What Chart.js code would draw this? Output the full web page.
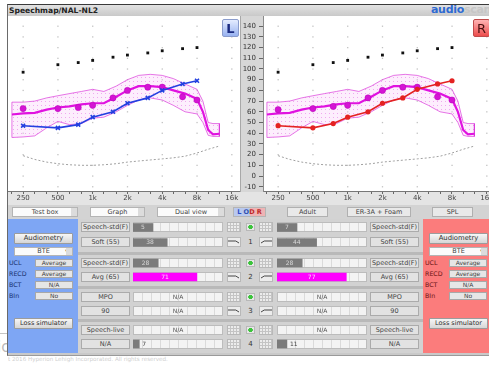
<!DOCTYPE html>
<html lang="en">
<head>
<meta charset="UTF-8" />
<title>Speechmap/NAL-NL2</title>
<script src="https://cdn.jsdelivr.net/npm/chart.js"></script>
<style>
  html, body { margin: 0; padding: 0; overflow: hidden; }
  body {
    width: 489px; height: 366px; position: relative; background: #fff;
    font-family: 'DejaVu Sans', sans-serif; color: #333;
  }
  .a { position: absolute; box-sizing: border-box; white-space: nowrap; overflow: hidden; text-align: center; font-size: 6.5px; }
  .btn { background: linear-gradient(#f6f6f6, #d6d6d6); border: 1px solid #9c9c9c; border-radius: 1px; color: #333; }
  .flat { background: #e2e2e2; border: 1px solid #ababab; color: #444; }
  .val { background: #e6e6e6; border: 1px solid #a8a8a8; color: #444; }
  .lab { text-align: left; font-size: 6.3px; }
  .combo { background: #fbfbfb; border: 1px solid #b4b4b4; color: #444; }
  .combo:after { content: ''; position: absolute; right: 0; top: 0; bottom: 0; width: 6px; background: #dcdcdc; }
  .gray { background: #e9e9e9; border: 1px solid #b0b0b0; color: #444; }
  .track {
    background: #f3f3f3; border: 1px solid #bcbcbc;
    background-image: repeating-linear-gradient(90deg, transparent 0 8px, #dadada 8px 9px);
  }
  .icon { background: #ececec; border: 1px solid #b8b8b8; }
  .wrap { position: absolute; }
</style>
</head>
<body>
  <div class="a" style="left:-3px;top:338px;width:14px;height:18px;font-size:15px;color:#b9b9b9;text-align:left;overflow:visible">ic</div>
  <div class="a" style="left:0;top:333px;width:8px;height:1px;background:#c4c4c4"></div>
  <div class="a" style="left:8px;top:356px;width:200px;height:8px;font-size:5.6px;color:#cfcfcf;text-align:left">t 2016 Hyperion Lehigh Incorporated. All rights reserved.</div>

  <!-- window frame -->
  <div class="a" style="left:7px;top:4px;width:490px;height:352px;background:#c9c9c9;border-top:1px solid #3a3a3a;border-left:1px solid #6a6a6a;border-bottom:1px solid #9a9a9a"></div>
  <div class="a" style="left:8px;top:5px;width:485px;height:11px;background:linear-gradient(#e2e2e2,#c9c9c9)"></div>
  <div class="a" style="left:9px;top:5px;width:120px;height:11px;line-height:11px;font-size:7.6px;font-weight:bold;color:#222;text-align:left">Speechmap/NAL-NL2</div>
  <div class="a" style="left:431px;top:3px;width:60px;height:13px;line-height:13px;font-size:11px;font-weight:bold;text-align:left;letter-spacing:-0.3px"><span style="color:#2f6ad2">audio</span><span style="color:#c6c6c6">scan</span></div>

  <!-- plot backgrounds -->
  <div class="a" style="left:8px;top:16px;width:232px;height:176px;background:#fff"></div>
  <div class="a" style="left:263px;top:16px;width:232px;height:176px;background:#fff"></div>
  <div class="a" style="left:240px;top:16px;width:23px;height:176px;background:#d7d7d7;border-left:1px solid #a8a8a8"></div>
  <div class="a" style="left:8px;top:192px;width:485px;height:14px;background:#e4e4e4"></div>

  <div class="wrap" style="left:8px;top:16px;width:232px;height:189px"><canvas id="leftChart"></canvas></div>
  <div class="wrap" style="left:240px;top:16px;width:255px;height:189px"><canvas id="rightChart"></canvas></div>

  <div class="a" style="left:222px;top:19px;width:17px;height:18px;line-height:17px;font-size:13px;font-weight:bold;color:#1a2a80;background:linear-gradient(#e4ecff,#98b2f0);border:1px solid #8a9ccc;border-radius:2px">L</div>
  <div class="a" style="left:473px;top:19px;width:17px;height:18px;line-height:17px;font-size:13px;color:#4a1010;background:linear-gradient(#ffb4b4,#ec4c4c);border:1px solid #c04a4a;border-radius:2px">R</div>

  <!-- toolbar -->
  <div class="a" style="left:8px;top:205px;width:485px;height:14px;background:#d3d3d3"></div>
  <div class="a combo" style="left:12px;top:207px;width:66px;height:10px;line-height:8px">Test box</div>
  <div class="a combo" style="left:90px;top:207px;width:55px;height:10px;line-height:8px">Graph</div>
  <div class="a combo" style="left:157px;top:207px;width:68px;height:10px;line-height:8px">Dual view</div>
  <div class="a" style="left:233px;top:207px;width:33px;height:10px;line-height:9px;font-size:6.5px;font-weight:bold;background:linear-gradient(90deg,#b9c9ee 0 50%,#eeb4b4 50% 100%);border:1px solid #b4b4b4"><span style="color:#2a4cc8">L</span> <span style="color:#3050b0">O</span><span style="color:#c02828">D</span> <span style="color:#c02828">R</span></div>
  <div class="a gray" style="left:287px;top:207px;width:41px;height:10px;line-height:8px">Adult</div>
  <div class="a gray" style="left:347px;top:207px;width:64px;height:10px;line-height:8px">ER-3A + Foam</div>
  <div class="a gray" style="left:432px;top:207px;width:41px;height:10px;line-height:8px">SPL</div>

  <!-- lower panels -->
  <div class="a" style="left:8px;top:219px;width:70px;height:134px;background:#7ea6f4"></div>
  <div class="a" style="left:423px;top:219px;width:70px;height:134px;background:#fb7c7c"></div>
  <div class="a" style="left:78px;top:219px;width:345px;height:134px;background:#d2d2d2"></div>

  <script>
    // ---- axes ----
    const xTickFreqs = [200, 250, 315, 400, 500, 630, 800, 1000, 1250, 1600, 2000, 2500, 3150, 4000, 5000, 6300, 8000, 10000, 12500, 16000];
    const xLabelFreqs = [250, 500, 1000, 2000, 4000, 8000, 16000];
    const xLabels = ['250', '500', '1k', '2k', '4k', '8k', '16k'];
    const yTicks = [-10, 0, 10, 20, 30, 40, 50, 60, 70, 80, 90, 100, 110, 120, 130, 140];

    // ---- audiometric frequencies ----
    const audFreqs = [250, 500, 750, 1000, 1500, 2000, 3000, 4000, 6000, 8000];
    const uclLeft = [97, 104, 106, 108, 111, 113, 115, 117, 119, 120];
    const uclRight = [97, 104, 106, 108, 111, 113, 115, 117, 119, 120];
    const targetLeft = [63, 63, 64, 66, 73, 80, 83, 83, 74, 71];
    const targetRight = [62, 63, 65, 66, 73, 80, 83, 83, 74, 71];
    const aidedLeft = [47, 45, 48, 55, 60, 68, 73, 80, 86, 89];
    const aidedRight = [47, 45, 49, 55, 60, 68, 73, 81, 86, 89];

    // ---- aided speech (LTASS) ----
    const ltassFreqs = [200, 250, 315, 400, 500, 630, 800, 1000, 1250, 1600, 2000, 2500, 3150, 4000, 5000, 6300, 8000, 9000, 10000, 11000, 12500];
    const ltassMid = [57.5, 58.5, 59, 62, 64, 65, 67, 68, 68, 74, 80, 84, 84, 83, 80, 77, 72, 60, 43, 39, 39.5];
    const ltassUpper = [69, 69, 70, 73, 75, 77, 79, 81, 79, 84, 90, 94, 95, 94, 91, 86, 81, 70, 50, 49, 49];
    const ltassLower = [36, 36.5, 37.5, 45, 51, 48, 49, 54, 55, 60, 66, 71, 73, 71, 66, 60, 58, 50, 38, 37, 37];

    // ---- threshold ----
    const thrFreqs = [250, 315, 400, 500, 630, 800, 1000, 1250, 1600, 2000, 2500, 3150, 4000, 5000, 6300, 8000, 10000, 12500];
    const thrDb = [19, 15.5, 13, 11.5, 10.5, 10, 10, 10.5, 11.5, 13, 14, 15, 16, 17, 18.5, 21.5, 25, 28];

    // ---- SII rows ----
    const rowLabels = ['Speech-std(F)', 'Soft (55)', 'Speech-std(F)', 'Avg (65)', 'MPO', '90', 'Speech-live', 'N/A'];
    const siiLeft = [5, 38, 28, 71, null, null, null, 7];
    const siiRight = [7, 44, 28, 77, null, null, null, 11];

    const panelLabels = ['UCL', 'RECD', 'BCT', 'BIn'];
    const panelValues = ['Average', 'Average', 'N/A', 'No'];

    Chart.defaults.font.family = "'DejaVu Sans', sans-serif";

    const pts = (xs, ys) => xs.map((x, i) => ({ x: x, y: ys[i] }));

    function bandPattern() {
      const c = document.createElement('canvas');
      c.width = 4; c.height = 4;
      const g = c.getContext('2d');
      g.fillStyle = 'rgba(250,200,250,0.3)';
      g.fillRect(0, 0, 4, 4);
      g.fillStyle = 'rgba(225,100,225,0.5)';
      g.fillRect(1, 1, 1, 1);
      return g.createPattern(c, 'repeat');
    }

    const dotGrid = {
      id: 'dotGrid',
      beforeDatasetsDraw(chart) {
        const { ctx, scales: { x, y } } = chart;
        ctx.save();
        ctx.fillStyle = '#c2c2c2';
        xLabelFreqs.forEach(f => {
          const px = x.getPixelForValue(f);
          yTicks.forEach(v => ctx.fillRect(px - 0.6, y.getPixelForValue(v) - 0.6, 1.3, 1.3));
        });
        ctx.restore();
      }
    };

    function createMain(id, side) {
      const left = side === 'L';
      const band = pts(ltassFreqs, ltassUpper)
        .concat(pts(ltassFreqs, ltassLower).reverse())
        .concat([{ x: ltassFreqs[0], y: ltassUpper[0] }]);
      const aidedColor = left ? '#2340e0' : '#e42222';

      return new Chart(document.getElementById(id), {
        type: 'line',
        data: {
          datasets: [
            {
              data: pts(audFreqs, left ? aidedLeft : aidedRight),
              borderColor: aidedColor, backgroundColor: aidedColor,
              borderWidth: 1.6,
              pointStyle: left ? 'crossRot' : 'circle',
              pointRadius: left ? 2.8 : 2.6,
              pointBorderWidth: left ? 1.6 : 0
            },
            {
              data: pts(audFreqs, left ? uclLeft : uclRight),
              showLine: false, pointStyle: 'rect', pointRadius: 2,
              backgroundColor: '#111', borderWidth: 0
            },
            {
              data: pts(audFreqs, left ? targetLeft : targetRight),
              showLine: false, pointStyle: 'circle', pointRadius: 3.1,
              backgroundColor: '#d414d4', borderColor: '#b800b8', borderWidth: 0.5
            },
            {
              data: pts(thrFreqs, thrDb),
              borderColor: '#a0a0a0', borderWidth: 1, borderDash: [2, 2],
              pointRadius: 0
            },
            {
              data: pts(ltassFreqs, ltassMid),
              borderColor: '#e012e0', borderWidth: 2.2, pointRadius: 0
            },
            {
              data: band,
              borderColor: 'rgba(215,40,215,0.7)', borderWidth: 0.9,
              backgroundColor: bandPattern(), fill: 'shape', pointRadius: 0
            }
          ]
        },
        options: {
          responsive: true,
          maintainAspectRatio: false,
          animation: false,
          layout: { padding: 0, autoPadding: false },
          plugins: { legend: { display: false }, tooltip: { enabled: false } },
          scales: {
            x: {
              type: 'logarithmic', min: 185, max: 18850,
              afterBuildTicks: s => { s.ticks = xTickFreqs.map(v => ({ value: v })); },
              afterFit: s => { s.height = 14; s.paddingLeft = 0; s.paddingRight = 0; },
              ticks: {
                autoSkip: false, maxRotation: 0, padding: 0,
                font: { size: 7 }, color: '#444',
                callback: v => { const i = xLabelFreqs.indexOf(v); return i < 0 ? '' : xLabels[i]; }
              },
              grid: { drawOnChartArea: false, tickLength: 3, tickColor: '#666' },
              border: { color: '#777' }
            },
            y: {
              display: !left,
              position: 'left',
              min: -14, max: 149.5,
              afterBuildTicks: s => { s.ticks = yTicks.map(v => ({ value: v })); },
              afterFit: s => { s.width = left ? 0 : 23; s.paddingTop = 0; s.paddingBottom = 0; },
              ticks: { autoSkip: false, font: { size: 7 }, color: '#333', padding: 3 },
              grid: { drawOnChartArea: false, tickLength: 4, tickColor: '#666' },
              border: { color: '#8a8a8a' }
            }
          }
        },
        plugins: [dotGrid]
      });
    }

    // ---- lower panel helpers ----
    function box(cls, x, y, w, h, text, css) {
      const d = document.createElement('div');
      d.className = 'a ' + cls;
      Object.assign(d.style, { left: x + 'px', top: y + 'px', width: w + 'px', height: h + 'px', lineHeight: (h - 2) + 'px' }, css || {});
      if (text) d.textContent = text;
      document.body.appendChild(d);
      return d;
    }

    const siiText = {
      id: 'siiText',
      afterDatasetsDraw(chart) {
        const { ctx, chartArea } = chart;
        const meta = chart.getDatasetMeta(0);
        ctx.save();
        ctx.font = "6px 'DejaVu Sans'";
        ctx.textBaseline = 'middle';
        chart.data.datasets[0].data.forEach((v, i) => {
          const y = chart.scales.y.getPixelForValue(i);
          if (v === null) {
            ctx.fillStyle = '#555'; ctx.textAlign = 'center';
            ctx.fillText('N/A', (chartArea.left + chartArea.right) / 2, y);
            return;
          }
          const bar = meta.data[i];
          const w = bar.x - bar.base;
          if (w > 14) {
            ctx.fillStyle = v > 60 ? '#ffd6ff' : '#d8d8d8'; ctx.textAlign = 'center';
            ctx.fillText(String(v), (bar.x + bar.base) / 2, y);
          } else {
            ctx.fillStyle = '#444'; ctx.textAlign = 'left';
            ctx.fillText(String(v), bar.x + 3, y);
          }
        });
        ctx.restore();
      }
    };

    function createSii(x, yTop, h, values, colors, minLen) {
      const wrap = document.createElement('div');
      wrap.className = 'wrap';
      Object.assign(wrap.style, { left: x + 'px', top: yTop + 'px', width: '90px', height: h + 'px' });
      const cv = document.createElement('canvas');
      wrap.appendChild(cv);
      document.body.appendChild(wrap);
      new Chart(cv, {
        type: 'bar',
        data: {
          labels: values.map((v, i) => i),
          datasets: [{ data: values, backgroundColor: colors, barThickness: 8, minBarLength: minLen, borderWidth: 0 }]
        },
        options: {
          indexAxis: 'y', responsive: true, maintainAspectRatio: false, animation: false,
          layout: { padding: 0, autoPadding: false },
          plugins: { legend: { display: false }, tooltip: { enabled: false } },
          scales: { x: { display: false, min: 0, max: 100 }, y: { display: false } }
        },
        plugins: [siiText]
      });
    }

    function iconGrid(x, y) {
      const d = box('icon', x, y, 14, 10, '');
      d.style.backgroundImage = 'repeating-linear-gradient(90deg, transparent 0 2px, #c4c4c4 2px 3px), repeating-linear-gradient(0deg, transparent 0 2px, #c4c4c4 2px 3px)';
    }
    function iconCurve(x, y, flip) {
      const d = box('icon', x, y, 14, 10, '');
      d.innerHTML = '<svg width="12" height="8" style="position:absolute;left:0;top:0"><path d="' +
        (flip ? 'M1 5 Q4 2 8 3 L12 3' : 'M0 3 L4 3 Q8 2 11 5') + '" stroke="#333" stroke-width="0.9" fill="none"/></svg>';
    }

    function buildLower() {
      const rowTops = [222, 237, 258, 272, 292, 306, 325, 339];
      const sep = [252, 286, 319];
      sep.forEach(y => box('', 78, y, 345, 3, '', { background: '#b9b9b9' }));

      const barColors = ['#7b7b7b', '#7b7b7b', '#7b7b7b', '#ff00ff', '#7b7b7b', '#7b7b7b', '#7b7b7b', '#7b7b7b'];
      rowTops.forEach((t, i) => {
        box('flat', 81, t, 49, 10, rowLabels[i]);
        box('flat', 370, t, 49, 10, rowLabels[i]);
        box('track', 133, t, 90, 10, '');
        box('track', 277, t, 90, 10, '');
        const curve = i % 2 === 1 && i !== 7;
        if (curve) { iconCurve(227, t); iconCurve(259, t, true); } else { iconGrid(227, t); iconGrid(259, t); }
        if (i % 2 === 0) {
          box('icon', 246, t + 1, 9, 8, '', { background: 'radial-gradient(circle, #3cc43c 0 2px, #e6e6e6 2.5px)' });
        } else {
          box('', 244, t, 13, 10, String((i + 1) / 2), { fontSize: '7px', color: '#333', lineHeight: '10px' });
        }
      });
      for (let g = 0; g < 4; g++) {
        const t1 = rowTops[g * 2], t2 = rowTops[g * 2 + 1];
        const h = 2 * (t2 - t1);
        const top = t1 + 5 - h / 4;
        const minLen = g < 2 ? 20 : 0;
        createSii(133, top, h, siiLeft.slice(g * 2, g * 2 + 2), barColors.slice(g * 2, g * 2 + 2), minLen);
        createSii(277, top, h, siiRight.slice(g * 2, g * 2 + 2), barColors.slice(g * 2, g * 2 + 2), minLen);
      }

      // side panels
      [[8, '#18306e', 9, 35], [423, '#6a1414', 425, 449]].forEach(([px, lc, lx, vx]) => {
        box('btn', px + 6, 233, 59, 11, 'Audiometry', { fontSize: '6.8px' });
        const bte = box('combo', px + 6, 247, 59, 9, 'BTE', { background: '#fbfbfb' });
        bte.innerHTML = 'BTE<span style="position:absolute;right:3px;top:0;font-size:5px">&#9660;</span>';
        panelLabels.forEach((l, i) => {
          const y = 259 + i * 11;
          box('lab', lx, y, 24, 8, l, { color: lc, lineHeight: '8px' });
          box('val', vx, y, 38, 8, panelValues[i], { fontSize: '6px' });
        });
        box('btn', px + 6, 318, 59, 11, 'Loss simulator', { fontSize: '6.5px' });
      });
    }

    window.onload = () => {
      createMain('leftChart', 'L');
      createMain('rightChart', 'R');
      buildLower();
    };
  </script>
</body>
</html>
